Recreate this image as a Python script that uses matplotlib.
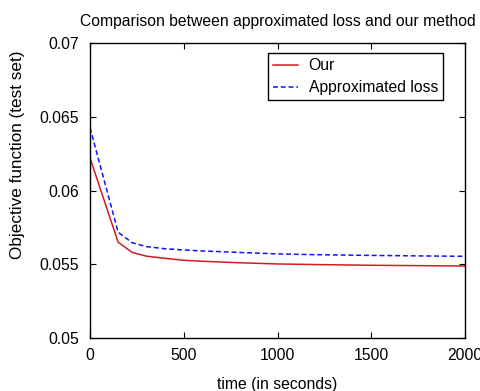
import matplotlib
matplotlib.use("Agg")
import matplotlib.pyplot as plt

plt.rcParams['font.family'] = ['Liberation Sans', 'DejaVu Sans']

t = [0, 150, 225, 300, 400, 500, 600, 800, 1000, 1200, 1500, 1800, 2000]
our = [0.0622, 0.0565, 0.0558, 0.05555, 0.0554, 0.05527, 0.0552, 0.0551, 0.05502,
       0.05498, 0.05493, 0.0549, 0.05488]
approx = [0.06426, 0.05717, 0.05646, 0.0562, 0.05605, 0.05597, 0.0559, 0.0558,
          0.0557, 0.05565, 0.0556, 0.05556, 0.05554]
xticks = [0, 500, 1000, 1500, 2000]
yticks = [0.05, 0.055, 0.06, 0.065, 0.07]
ytick_labels = ['0.05', '0.055', '0.06', '0.065', '0.07']

FS = 11.3
fig = plt.figure(figsize=(4.8, 3.91), dpi=100)
ax = fig.add_axes([90/480, 1-338/391, 375/480, 295/391])

ax.plot(t, our, color='#d01c1c', lw=1.1, label='Our')
ax.plot(t, approx, color='#1010ff', lw=1.1, dashes=(3.2, 1.9), label='Approximated loss')

ax.set_xlim(0, 2000)
ax.set_ylim(0.05, 0.07)
ax.set_xticks(xticks)
ax.set_xticklabels([str(x) for x in xticks])
ax.set_yticks(yticks)
ax.set_yticklabels(ytick_labels)
ax.tick_params(direction='in', top=True, right=True, length=4, width=0.8,
               labelsize=FS)
ax.tick_params(axis='y', pad=8)
ax.tick_params(axis='x', pad=7)
for s in ax.spines.values():
    s.set_linewidth(1.0)

ax.set_title('Comparison between approximated loss and our method', fontsize=FS, pad=12)
ax.set_xlabel('time (in seconds)', fontsize=FS, labelpad=10)
ax.set_ylabel('Objective function (test set)', fontsize=12.3)
ax.yaxis.set_label_coords(-0.173, 0.62)

leg = ax.legend(loc='upper right', bbox_to_anchor=(353/375, 1-10/295), fontsize=FS,
                frameon=True, fancybox=False, edgecolor='black', framealpha=1,
                handlelength=1.6, borderpad=0.32, labelspacing=0.45, handletextpad=0.65,
                borderaxespad=0)
leg.get_frame().set_linewidth(1.0)

fig.savefig('out.png', dpi=100)
